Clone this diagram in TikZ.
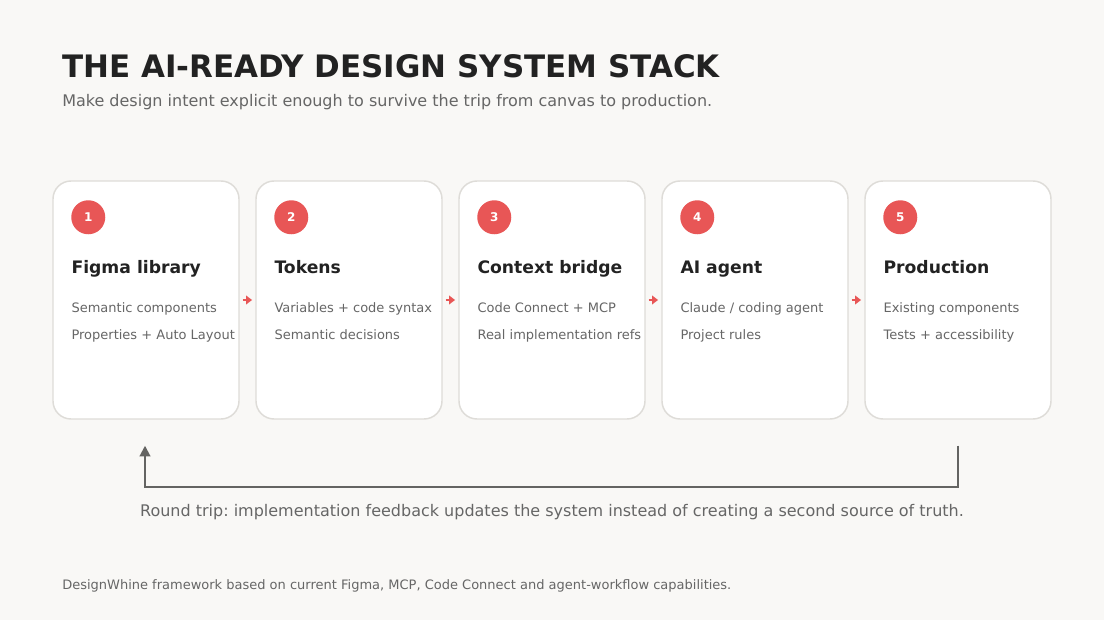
\documentclass[tikz,border=0pt]{standalone}
\usepackage{fontspec}
\setmainfont{DejaVu Sans}
\usepackage{tikz}
\usetikzlibrary{arrows.meta,calc}
\frenchspacing
\definecolor{bgpaper}{RGB}{249,248,246}
\definecolor{inkdark}{RGB}{34,34,34}
\definecolor{inkgray}{RGB}{102,102,102}
\definecolor{cardline}{RGB}{222,220,216}
\definecolor{accent}{RGB}{232,86,86}
\definecolor{loopgray}{RGB}{100,100,98}

\begin{document}
\begin{tikzpicture}[x=0.75pt, y=-0.75pt,
  card/.style={draw=cardline, line width=1.1pt, fill=white, rounded corners=13.5pt,
    minimum width=139.5pt, minimum height=178.5pt, inner sep=0pt},
  badge/.style={circle, fill=accent, minimum size=25.5pt, inner sep=0pt,
    text=white, font=\bfseries\fontsize{9}{10}\selectfont},
  cardtitle/.style={anchor=base west, inner sep=0pt, text=inkdark,
    font=\bfseries\fontsize{12.9}{15}\selectfont},
  cardbody/.style={anchor=base west, inner sep=0pt, text=inkgray,
    font=\fontsize{9.75}{11}\selectfont},
  step arrow/.style={accent, line width=1.5pt, -{Triangle[length=4.5pt,width=6.5pt]},
    shorten <=2.2pt, shorten >=2.4pt},
  loop line/.style={loopgray, line width=1.5pt, -{Triangle[length=8pt,width=8pt]}}]
  % background and page frame
  \fill[bgpaper] (0,0) rectangle (1104,620);
  \useasboundingbox (0,0) rectangle (1104,620);
  % heading
  \node[anchor=base west, inner sep=0pt, text=inkdark,
    font=\bfseries\fontsize{23.2}{27}\selectfont] (title) at (62,78)
    {THE AI-READY DESIGN SYSTEM STACK};
  \node[anchor=base west, inner sep=0pt, text=inkgray,
    font=\fontsize{12}{14}\selectfont] (subtitle) at (62,107)
    {Make design intent explicit enough to survive the trip from canvas to production.};
  % the five stages
  \foreach \i/\name/\lineA/\lineB in {
      1/Figma library/Semantic components/Properties + Auto Layout,
      2/Tokens/Variables + code syntax/Semantic decisions,
      3/Context bridge/Code Connect + MCP/Real implementation refs,
      4/AI agent/{Claude / coding agent}/Project rules,
      5/Production/Existing components/Tests + accessibility} {
    \node[card] (card\i) at ({146+203*(\i-1)},300) {};
    \node[badge] (badge\i) at ($(card\i.north west)+(36,37)$) {\i};
    \node[cardtitle] (name\i) at ($(card\i.north west)+(19,93)$) {\name};
    \node[cardbody] (lineA\i) at ($(card\i.north west)+(19,132)$) {\lineA};
    \node[cardbody] (lineB\i) at ($(card\i.north west)+(19,159)$) {\lineB};
  }
  % arrows between stages
  \foreach \i [evaluate=\i as \j using int(\i+1)] in {1,...,4}
    \draw[step arrow] (card\i.east) -- (card\j.west);
  % feedback loop
  \coordinate (loopA) at ($(card5.south)+(0,26)$);
  \coordinate (loopB) at ($(card1.south)+(-1,26)$);
  \draw[loop line] (loopA) -- ++(0,41) -| (loopB);
  \node[anchor=base, inner sep=0pt, text=inkgray, font=\fontsize{12}{14}\selectfont]
    (roundtrip) at (552,516)
    {Round trip: implementation feedback updates the system instead of creating a second source of truth.};
  % footnote
  \node[anchor=base west, inner sep=0pt, text=inkgray, font=\fontsize{9.75}{11}\selectfont]
    (footer) at (62,589)
    {DesignWhine framework based on current Figma, MCP, Code Connect and agent-workflow capabilities.};
\end{tikzpicture}
\end{document}
